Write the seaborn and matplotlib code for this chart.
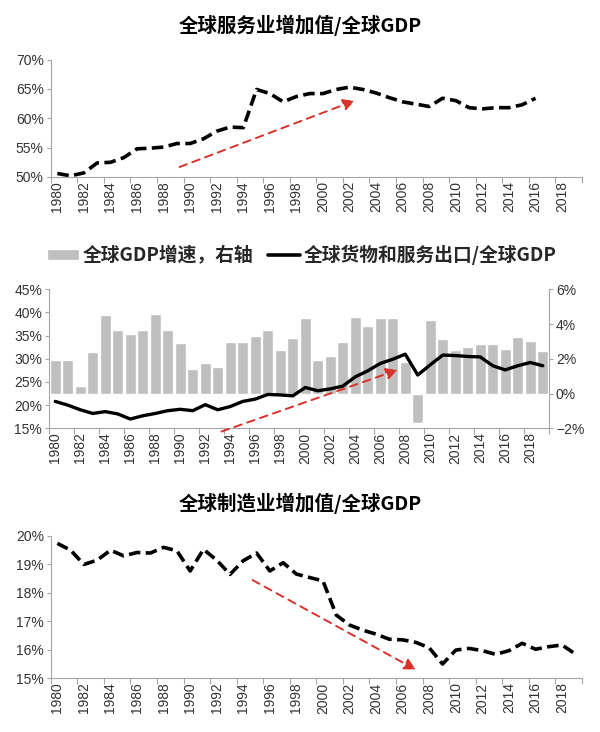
import matplotlib
matplotlib.use('Agg')
import matplotlib.pyplot as plt
import matplotlib.ticker as mticker
from matplotlib.lines import Line2D
from matplotlib.patches import Patch
from matplotlib.font_manager import FontProperties
import seaborn as sns
import numpy as np
import pandas as pd

years = list(range(1980, 2020))

# 全球服务业增加值/全球GDP (%), 1980-2016
services_share = [50.6, 50.2, 50.7, 52.4, 52.5, 53.3, 54.8, 54.9, 55.1, 55.7,
                  55.7, 56.5, 57.8, 58.5, 58.4, 64.9, 64.2, 62.8, 63.7, 64.2,
                  64.2, 64.9, 65.3, 64.9, 64.3, 63.5, 62.8, 62.4, 62.0, 63.4,
                  63.0, 61.8, 61.6, 61.8, 61.8, 62.3, 63.4]

# 全球GDP增速 (%), 右轴
gdp_growth = [1.92, 1.92, 0.42, 2.4, 4.5, 3.67, 3.4, 3.67, 4.6, 3.67,
              2.9, 1.42, 1.75, 1.5, 2.97, 2.97, 3.34, 3.67, 2.5, 3.2,
              4.36, 1.92, 2.15, 2.94, 4.4, 3.9, 4.36, 4.32, 1.83, -1.68,
              4.26, 3.12, 2.52, 2.66, 2.85, 2.85, 2.58, 3.26, 3.0, 2.47]

# 全球货物和服务出口/全球GDP (%)
export_share = [20.8, 20.0, 19.0, 18.2, 18.6, 18.1, 17.0, 17.7, 18.2, 18.8,
                19.1, 18.8, 20.1, 19.0, 19.7, 20.8, 21.3, 22.3, 22.2, 22.0,
                23.8, 23.1, 23.5, 24.1, 26.1, 27.4, 29.0, 29.9, 31.0, 26.5,
                28.7, 30.8, 30.7, 30.5, 30.4, 28.5, 27.6, 28.5, 29.2, 28.5]

# 全球制造业增加值/全球GDP (%)
manuf_share = [19.74, 19.5, 19.0, 19.15, 19.5, 19.3, 19.42, 19.4, 19.6, 19.48,
               18.77, 19.53, 19.15, 18.65, 19.13, 19.4, 18.77, 19.06, 18.66, 18.54,
               18.42, 17.22, 16.87, 16.69, 16.55, 16.37, 16.35, 16.26, 16.07, 15.5,
               15.99, 16.05, 15.97, 15.84, 15.97, 16.23, 16.02, 16.11, 16.17, 15.85]

df_services = pd.DataFrame({'year': years[:len(services_share)], 'value': services_share})
df_mid = pd.DataFrame({'year': years, 'growth': gdp_growth, 'export': export_share})
df_manuf = pd.DataFrame({'year': years, 'value': manuf_share})

sns.set_style('white')
plt.rcParams['font.family'] = ['Liberation Sans', 'Noto Sans CJK SC', 'DejaVu Sans']

GRAY = '#a6a6a6'
BAR = '#bfbfbf'
RED = '#d9322b'
TXT = '#333333'
cjk = FontProperties(family='Noto Sans CJK SC', weight='bold', size=14)
cjk_leg = FontProperties(family='Noto Sans CJK SC', weight='bold', size=13.5)
dash = (0, (3.2, 1.5))


def pct(v, pos):
    s = f'{abs(v):.0f}%'
    return ('\u2212' + s) if v < 0 else s


def style_axis(ax):
    ax.set_xlim(1979.5, 2019.5)
    ax.set_xticks(np.arange(1979.5, 2020, 2))
    ax.set_xticklabels([])
    ax.set_xticks(np.arange(1980, 2019, 2), minor=True)
    ax.set_xticklabels([str(y) for y in range(1980, 2019, 2)], minor=True,
                       rotation=90, fontsize=10, color=TXT)
    ax.tick_params(axis='x', which='major', bottom=True, length=4, color=GRAY, width=0.8)
    ax.tick_params(axis='x', which='minor', bottom=True, length=0, pad=3)
    ax.tick_params(axis='y', left=True, length=3, color=GRAY, width=0.8,
                   labelsize=10, labelcolor=TXT, pad=2)
    ax.yaxis.set_major_formatter(mticker.FuncFormatter(pct))
    for side in ['top', 'right']:
        ax.spines[side].set_visible(False)
    for side in ['left', 'bottom']:
        ax.spines[side].set_color(GRAY)
        ax.spines[side].set_linewidth(0.8)
    ax.set_xlabel('')
    ax.set_ylabel('')


def trend_arrow(ax, start, end):
    ax.annotate('', xy=end, xytext=start, annotation_clip=False,
                arrowprops=dict(arrowstyle='-|>', color=RED, lw=1.4,
                                linestyle=(0, (4, 3)), mutation_scale=17,
                                shrinkA=0, shrinkB=0))


fig = plt.figure(figsize=(6, 7.32), dpi=100)

# ---- 全球服务业增加值/全球GDP
ax1 = fig.add_axes([0.0845, 0.7582, 0.8855, 0.1605])
sns.lineplot(data=df_services, x='year', y='value', ax=ax1, color='black',
             linewidth=2.6, linestyle=dash, errorbar=None)
ax1.set_ylim(50, 70)
ax1.set_yticks(range(50, 71, 5))
style_axis(ax1)
trend_arrow(ax1, (1989.2, 51.7), (2002.4, 63.0))
fig.text(0.5, 0.966, '全球服务业增加值/全球GDP', ha='center', va='center',
         fontproperties=cjk, color='black')

# ---- 出口/GDP 与 GDP增速
ax2 = fig.add_axes([0.0817, 0.4149, 0.8333, 0.1899])
ax2r = ax2.twinx()
sns.barplot(data=df_mid, x='year', y='growth', ax=ax2r, color=BAR,
            saturation=1, width=0.85, native_scale=True, errorbar=None)
sns.lineplot(data=df_mid, x='year', y='export', ax=ax2, color='black',
             linewidth=2.4, errorbar=None)
ax2.set_zorder(ax2r.get_zorder() + 1)
ax2.patch.set_visible(False)
ax2.set_ylim(15, 45)
ax2.set_yticks(range(15, 46, 5))
ax2r.set_ylim(-2, 6)
ax2r.set_yticks(range(-2, 7, 2))
style_axis(ax2)
ax2.spines['right'].set_visible(True)
ax2.spines['right'].set_color(GRAY)
ax2.spines['right'].set_linewidth(0.8)
for side in ['top', 'left', 'bottom', 'right']:
    ax2r.spines[side].set_visible(False)
ax2r.set_xlim(1979.5, 2019.5)
ax2r.yaxis.set_major_formatter(mticker.FuncFormatter(pct))
ax2r.tick_params(axis='y', right=True, length=3, color=GRAY, width=0.8,
                 labelsize=10, labelcolor=TXT, pad=2)
ax2r.set_ylabel('')
ax2r.set_xlabel('')
trend_arrow(ax2, (1993.3, 14.3), (2007.4, 27.6))
fig.legend(handles=[Patch(facecolor=BAR, label='全球GDP增速，右轴'),
                    Line2D([0], [0], color='black', lw=2.6, label='全球货物和服务出口/全球GDP')],
           loc='center', bbox_to_anchor=(0.503, 0.6516), ncol=2, frameon=False,
           prop=cjk_leg, handlelength=1.7, handleheight=0.55, handletextpad=0.2,
           columnspacing=0.8, borderaxespad=0)

# ---- 全球制造业增加值/全球GDP
ax3 = fig.add_axes([0.0845, 0.0734, 0.8855, 0.1944])
sns.lineplot(data=df_manuf, x='year', y='value', ax=ax3, color='black',
             linewidth=2.6, linestyle=dash, errorbar=None)
ax3.set_ylim(15, 20)
ax3.set_yticks(range(15, 21))
style_axis(ax3)
trend_arrow(ax3, (1994.7, 18.45), (2007.0, 15.3))
fig.text(0.5, 0.313, '全球制造业增加值/全球GDP', ha='center', va='center',
         fontproperties=cjk, color='black')

fig.savefig('out.png', dpi=100)
